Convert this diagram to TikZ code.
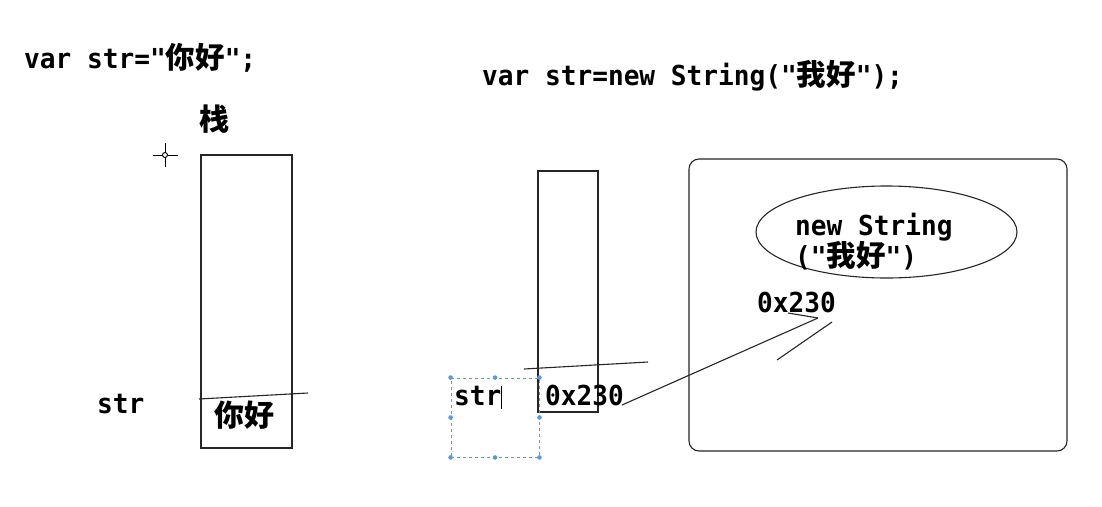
\documentclass[tikz,border=0pt]{standalone}
\usepackage{fontspec}
\newfontfamily\mono{DejaVu Sans Mono}[FakeStretch=0.95]
\newfontfamily\cjkfont{Noto Sans CJK SC}
\newcommand\cj[1]{{\cjkfont\bfseries\fontsize{29.5}{30}\selectfont #1}}
\usetikzlibrary{shapes.geometric}
\definecolor{selblue}{RGB}{91,155,213}
\tikzset{
  txt/.style={font=\mono\bfseries\fontsize{27.5}{28}\selectfont, inner sep=0, anchor=base west},
  cjt/.style={font=\cjkfont\bfseries\fontsize{30}{30}\selectfont, inner sep=0},
  box/.style={draw=black!85, line width=1.1pt, inner sep=0},
  ln/.style={draw=black!85, line width=1.1pt},
}
\begin{document}
\begin{tikzpicture}[x=1pt,y=-1pt]
\fill[white] (0,0) rectangle (1102,506);
\useasboundingbox (0,0) rectangle (1102,506);

% left part
\node[txt] (code1) at (24,68) {var str="\cj{你好}";};
\node[cjt] (zhan) at (214,119) {栈};
% crosshair cursor
\draw[line width=0.9pt] (153,155) -- (162.5,155) (167.5,155) -- (178,155)
      (165,143) -- (165,152.5) (165,157.5) -- (165,167);
\draw[line width=0.9pt] (165,155) circle (2.5);
\node[box, minimum width=91pt, minimum height=293pt] (stack1) at (246.5,301.5) {};
\coordinate (s1a) at (199,399);
\coordinate (s1b) at (308,393);
\draw[ln] (s1a) -- (s1b);
\node[cjt] (nihao) at (244,415) {你好};
\node[txt] (str1) at (97,413) {str};

% right part
\node[txt] (code2) at (482,85) {var str=new String("\cj{我好}");};
\node[box, minimum width=60pt, minimum height=241pt] (stack2) at (568,291.5) {};
\coordinate (s2a) at (524,369);
\coordinate (s2b) at (648,362);
\draw[ln] (s2a) -- (s2b);
\node[txt] (addr1) at (545,405) {0x230};
% selection box
\node[draw=selblue, dashed, line width=0.9pt, minimum width=88pt, minimum height=79pt, inner sep=0] (sel) at (495,417.5) {};
\foreach \p in {north west,north,north east,west,east,south west,south,south east}
  \fill[selblue] (sel.\p) circle (2.3);
\node[txt] (str2) at (454,405) {str};
\draw[black, line width=0.9pt] (501,386) -- (501,409);

% heap
\node[box, rounded corners=10pt, minimum width=378pt, minimum height=292pt] (heap) at (878,305) {};
\node[box, ellipse, minimum width=261pt, minimum height=92pt] (obj) at (886.5,232) {};
\node[txt, align=left, anchor=north west] (objt) at (795,213)
  {new String\\[-1pt]("\cj{我好}")};
\node[txt] (addr2) at (757,312) {0x230};

% arrow (hand-drawn)
\coordinate (tip) at (818,318);
\coordinate (w1) at (788,313);
\coordinate (w2a) at (777,360);
\coordinate (w2b) at (832,322);
\coordinate (tail) at (622,405);
\draw[ln] (tail) -- (tip);
\draw[ln] (w1) -- (tip);
\draw[ln] (w2a) -- (w2b);
\end{tikzpicture}
\end{document}
